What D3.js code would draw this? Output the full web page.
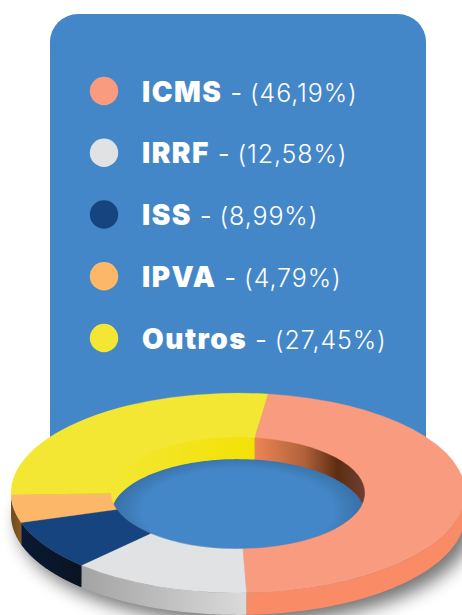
<!DOCTYPE html>
<html>
<head>
<meta charset="utf-8">
<script src="https://d3js.org/d3.v7.min.js"></script>
<style>
  html, body { margin: 0; padding: 0; background: #fff; overflow: hidden; }
  text { font-family: Inter, "Open Sans", sans-serif; fill: #fff; }
</style>
</head>
<body>
<div id="chart"></div>
<script>
// Legend values
const categories = ["ICMS", "IRRF", "ISS", "IPVA", "Outros"];
const labels = ["(46,19%)", "(12,58%)", "(8,99%)", "(4,79%)", "(27,45%)"];
// Slice sizes as the picture draws them (they differ a little from the labels)
const drawnShares = [47.3, 12.7, 8.1, 4.6, 27.3];

const topColors = ["#f89b7e", "#e1e2e4", "#15447f", "#fdb768", "#f3e733"];
const outerWallColors = [
    ["#f98c66", "#f98c66"],
    ["#a3a3a3", "#dadada"],
    ["#0a1a33", "#0a1322"],
    ["#6f4a1c", "#8a5a24"],
    ["#f3e733", "#f3e733"]
];
const innerWallColors = [
    [["0", "#ee8555"], ["0.45", "#b0623a"], ["0.75", "#5e2c12"], ["1", "#6e4030"]],
    null,
    null,
    null,
    [["0", "#f3e733"], ["1", "#f2e205"]]
];

const width = 462, height = 615;
const blue = "#4487c8";

const cx = 238, cy = 493;
const outerR = 227, innerR = 127, tilt = 0.44, depth = 22;
const tau = 2 * Math.PI;
const deg = d => d * Math.PI / 180;
const startAngle = deg(7.6);

const svg = d3.select("#chart")
    .append("svg")
    .attr("width", width)
    .attr("height", height)
    .style("display", "block");

const defs = svg.append("defs");

defs.append("filter").attr("id", "blur").attr("x", "-20%").attr("y", "-20%")
    .attr("width", "140%").attr("height", "140%")
    .append("feGaussianBlur").attr("stdDeviation", 9);

const holeShade = defs.append("radialGradient").attr("id", "holeShade")
    .attr("cx", 0.5).attr("cy", 0.66).attr("r", 0.68);
holeShade.append("stop").attr("offset", 0.55).attr("stop-color", "#20405f").attr("stop-opacity", 0);
holeShade.append("stop").attr("offset", 1).attr("stop-color", "#20405f").attr("stop-opacity", 0.85);

// Blue card
svg.append("rect")
    .attr("x", 50).attr("y", 14)
    .attr("width", 376).attr("height", 500)
    .attr("rx", 28)
    .attr("fill", blue);

// Legend
const rowY = d3.scalePoint().domain(categories).range([91, 338]);

const rows = svg.append("g").selectAll("g")
    .data(categories)
    .enter()
    .append("g")
    .attr("transform", d => `translate(0,${rowY(d)})`);

rows.append("circle")
    .attr("cx", 104)
    .attr("r", 14.2)
    .attr("fill", (d, i) => topColors[i]);

const rowText = rows.append("text")
    .attr("x", 142)
    .attr("y", 10.5);

rowText.append("tspan")
    .style("font-size", "28px")
    .style("font-weight", 900)
    .style("letter-spacing", "1.5px")
    .text(d => d);
rowText.append("tspan")
    .attr("dx", 8)
    .style("font-size", "25px")
    .style("font-weight", 400)
    .text("-");
rowText.append("tspan")
    .attr("dx", 8)
    .style("font-size", "25px")
    .style("font-weight", 300)
    .style("letter-spacing", "0.9px")
    .text((d, i) => labels[i]);

// Donut
const slices = d3.pie().sort(null)
    .startAngle(startAngle)
    .endAngle(startAngle + tau)(drawnShares);

const donut = svg.append("g").attr("transform", `translate(${cx},${cy})`);

// Soft shadow under the donut
donut.append("ellipse")
    .attr("cx", 8).attr("cy", depth + 9)
    .attr("rx", outerR).attr("ry", outerR * tilt)
    .attr("fill", "#000")
    .attr("opacity", 0.55)
    .attr("filter", "url(#blur)");

// Floor of the hole
donut.append("ellipse")
    .attr("rx", innerR).attr("ry", innerR * tilt)
    .attr("fill", blue);
donut.append("ellipse")
    .attr("rx", innerR).attr("ry", innerR * tilt)
    .attr("fill", "url(#holeShade)");

// Band following an ellipse, dropped by the depth of the donut.
// The top runs a bit high so the face above hides the seam.
function wall(radius, lift) {
    return d3.area()
        .x(a => radius * Math.sin(a))
        .y0(a => -radius * tilt * Math.cos(a) - lift)
        .y1(a => -radius * tilt * Math.cos(a) + depth);
}
function samples(a0, a1) {
    return d3.range(0, 61).map(k => a0 + (a1 - a0) * k / 60);
}
function addGradient(id, stops) {
    const g = defs.append("linearGradient").attr("id", id);
    stops.forEach(s => g.append("stop").attr("offset", s[0]).attr("stop-color", s[1]));
}

// Inner walls, visible on the far side of the hole
slices.forEach((s, i) => {
    if (!innerWallColors[i]) return;
    [0, tau].forEach(shift => {
        const a0 = Math.max(s.startAngle + shift, deg(270));
        const a1 = Math.min(s.endAngle + shift, deg(450));
        if (a1 <= a0) return;
        const id = `inner-${i}-${shift ? 1 : 0}`;
        addGradient(id, innerWallColors[i]);
        donut.append("path")
            .attr("d", wall(innerR, 3)(samples(a0, a1)))
            .attr("fill", `url(#${id})`);
    });
});

// Outer walls, visible on the near side
slices.forEach((s, i) => {
    const a0 = Math.max(s.startAngle, deg(90));
    const a1 = Math.min(s.endAngle, deg(270));
    if (a1 <= a0) return;
    const id = `outer-${i}`;
    addGradient(id, [["0", outerWallColors[i][0]], ["1", outerWallColors[i][1]]]);
    donut.append("path")
        .attr("d", wall(outerR, 0)(samples(a0, a1)))
        .attr("fill", `url(#${id})`);
});

// Top face
const arc = d3.arc().innerRadius(innerR).outerRadius(outerR);
donut.append("g")
    .attr("transform", `scale(1,${tilt})`)
    .selectAll("path")
    .data(slices)
    .enter()
    .append("path")
    .attr("d", arc)
    .attr("fill", (d, i) => topColors[i])
    .attr("stroke", (d, i) => topColors[i])
    .attr("stroke-width", 0.4);
</script>
</body>
</html>
